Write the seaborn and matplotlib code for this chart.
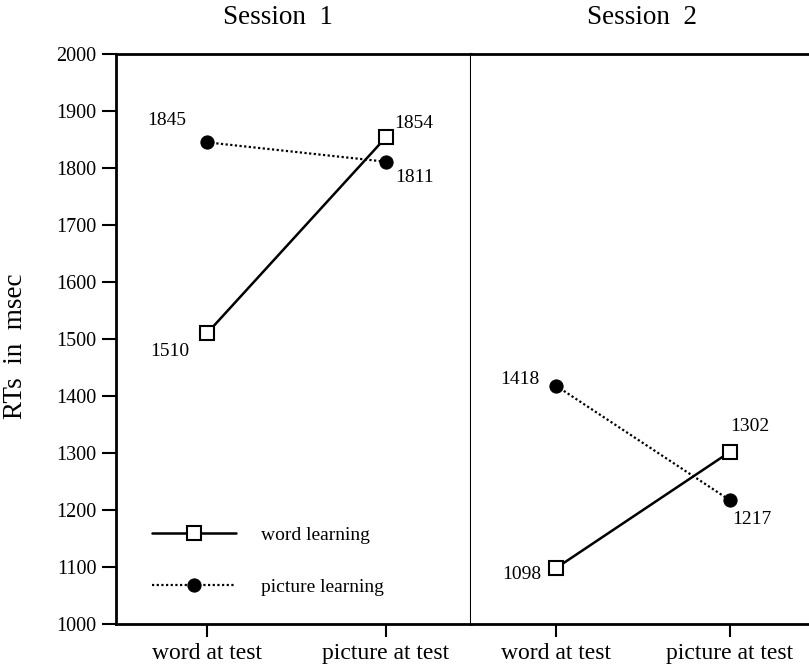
import matplotlib
matplotlib.use("Agg")
import matplotlib.pyplot as plt
import seaborn as sns
import pandas as pd

# ---- data ----
conditions = ["word at test", "picture at test"]
sessions = ["Session  1", "Session  2"]
word_learning_s1 = [1510, 1854]
picture_learning_s1 = [1845, 1811]
word_learning_s2 = [1098, 1302]
picture_learning_s2 = [1418, 1217]
y_ticks = [1000, 1100, 1200, 1300, 1400, 1500, 1600, 1700, 1800, 1900, 2000]
series_names = ["word learning", "picture learning"]

sns.set_theme(style="ticks")
plt.rcParams["font.family"] = ["Liberation Serif", "DejaVu Serif"]
plt.rcParams["axes.linewidth"] = 1.5
for k in ["text.color", "axes.labelcolor", "xtick.color", "ytick.color", "axes.edgecolor"]:
    plt.rcParams[k] = "black"

W, H = 809, 665
fig = plt.figure(figsize=(W / 100, H / 100), dpi=100)
fig.patch.set_facecolor("white")

bottom_px, top_px = 624, 54
left_px, mid_px, right_px = 116, 471, 809
b = 1 - bottom_px / H
h = (bottom_px - top_px) / H
ax1 = fig.add_axes([left_px / W, b, (mid_px - left_px) / W, h])
ax2 = fig.add_axes([mid_px / W, b, (right_px - mid_px) / W, h])

def make_df(word, pic):
    return pd.DataFrame({
        "cond": conditions * 2,
        "rt": list(word) + list(pic),
        "series": [series_names[0]] * 2 + [series_names[1]] * 2,
    })

dfs = [make_df(word_learning_s1, picture_learning_s1),
       make_df(word_learning_s2, picture_learning_s2)]
axes = [ax1, ax2]

# label offsets (pixels) for each point
offsets = {
    0: {"word learning": [(-37, -18), (28, 14)], "picture learning": [(-40, 22), (29, -16)]},
    1: {"word learning": [(-34, -6), (20, 25)], "picture learning": [(-36, 6), (22, -19)]},
}

for i, (ax, df) in enumerate(zip(axes, dfs)):
    pic = df[df.series == series_names[1]]
    wrd = df[df.series == series_names[0]]
    sns.lineplot(data=pic, x="cond", y="rt", ax=ax, color="black",
                 linestyle=(0, (1, 1.1)), linewidth=1.6, marker="o",
                 markersize=9.5, markerfacecolor="black", markeredgecolor="black",
                 label=series_names[1], zorder=3)
    sns.lineplot(data=wrd, x="cond", y="rt", ax=ax, color="black",
                 linestyle="-", linewidth=1.8, marker="s",
                 markersize=9.5, markerfacecolor="white", markeredgecolor="black",
                 markeredgewidth=1.5, label=series_names[0], zorder=4)
    for name, sub in ((series_names[0], wrd), (series_names[1], pic)):
        for j, (xv, yv) in enumerate(zip(range(len(conditions)), sub["rt"].values)):
            dx, dy = offsets[i][name][j]
            ax.annotate(f"{yv}", (xv, yv), xytext=(dx, dy), textcoords="offset pixels",
                        ha="center", va="center", fontsize=14)
    ax.set_ylim(1000, 2000)
    ax.set_xlabel("")
    ax.set_ylabel("")
    ax.set_facecolor("white")
    ax.set_xticks(range(len(conditions)))
    ax.set_xticklabels(conditions, fontsize=17)
    ax.tick_params(axis="x", direction="out", length=9, width=1.5, pad=5)
    ax.get_legend().remove()

fig.text(278 / W, 1 - 17 / H, sessions[0], ha="center", va="center", fontsize=19.5)
fig.text(642 / W, 1 - 17 / H, sessions[1], ha="center", va="center", fontsize=19.5)

ax1.set_xlim((left_px - 207) / 179, (mid_px - 207) / 179)
ax2.set_xlim((mid_px - 556) / 174, (right_px - 556) / 174)

ax1.set_yticks(y_ticks)
ax1.set_yticklabels([str(t) for t in y_ticks], fontsize=14.5)
ax1.tick_params(axis="y", direction="out", length=10, width=1.5, pad=4)
ax2.set_yticks([])
for s in ["left", "top", "bottom", "right"]:
    ax1.spines[s].set_visible(True)
    ax1.spines[s].set_color("black")
ax1.spines["top"].set_linewidth(2)
ax1.spines["left"].set_linewidth(2)
ax1.spines["bottom"].set_linewidth(2)
ax1.spines["right"].set_linewidth(1.5)
ax2.spines["left"].set_visible(False)
ax2.spines["right"].set_visible(False)
ax2.spines["top"].set_visible(True)
ax2.spines["top"].set_linewidth(2)
ax2.spines["bottom"].set_linewidth(2)
ax2.spines["top"].set_color("black")
ax2.spines["bottom"].set_color("black")

fig.text(16 / W, 1 - 346 / H, "RTs  in  msec", rotation=90, ha="center", va="center",
         fontsize=19.5)

handles, labels = ax1.get_legend_handles_labels()
order = [labels.index(series_names[0]), labels.index(series_names[1])]
leg = ax1.legend([handles[k] for k in order], [labels[k] for k in order],
                 loc="center left", bbox_to_anchor=((152 - left_px) / (mid_px - left_px), 0.11),
                 frameon=False, fontsize=14, handlelength=4.3, handletextpad=1.3,
                 labelspacing=1.75, borderpad=0, borderaxespad=0)

fig.savefig("out.png", dpi=100, facecolor="white")
